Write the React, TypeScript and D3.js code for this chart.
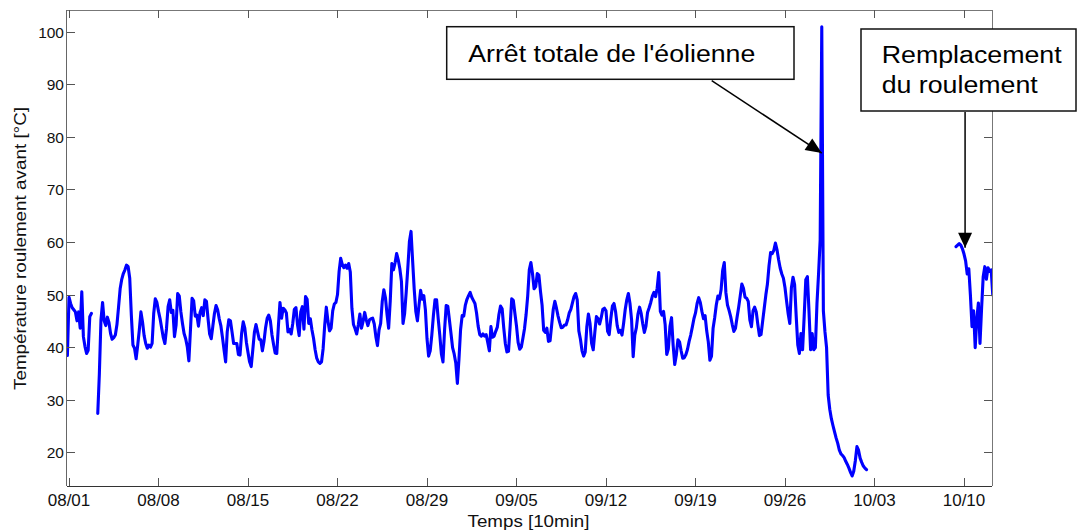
import * as d3 from 'd3';

// 3-hourly samples of the front bearing temperature (°C)
const STEP_MS = 3 * 3600 * 1000;

const julStart = Date.UTC(2011, 6, 31, 21);
const julTemps = [38.5];

const augStart = Date.UTC(2011, 7, 1, 0);
const augTemps = [
  49.6, 48.4, 47.6, 47.2, 46.8, 45.1, 46.8, 43.7,
  50.6, 42.1, 40.2, 38.9, 39.5, 45.9, 46.5, NaN,
  NaN, NaN, 27.5, 35.1, 45.3, 48.6, 45.1, 44.2,
  45.8, 44.8, 42.7, 41.6, 41.9, 42.4, 44.4, 47.7,
  51.2, 53.0, 54.1, 54.8, 55.7, 55.4, 53.2, 46.2,
  40.5, 39.9, 37.9, 40.5, 43.4, 46.8, 44.9, 42.3,
  40.8, 39.9, 40.5, 40.1, 40.8, 46.5, 49.3, 48.6,
  46.9, 45.5, 43.7, 41.9, 40.8, 43.6, 47.8, 49.1,
  46.7, 47.1, 42.1, 44.3, 50.3, 49.8, 46.8, 44.6,
  42.7, 41.7, 40.2, 37.5, 43.4, 49.4, 48.9, 46.0,
  46.2, 44.1, 46.7, 47.6, 46.1, 49.1, 48.8, 45.5,
  42.6, 41.7, 44.1, 46.5, 48.0, 47.2, 45.5, 44.2,
  42.0, 39.6, 37.3, 43.0, 45.3, 45.1, 43.0, 40.8,
  40.8, 40.8, 38.7, 38.6, 42.7, 44.9, 43.7, 41.0,
  39.1, 37.3, 36.4, 39.6, 42.9, 44.4, 43.0, 41.6,
  41.5, 39.4, 41.2, 43.8, 45.6, 46.2, 45.1, 42.4,
  40.6, 39.0, 38.9, 44.0, 48.6, 45.6, 47.5, 47.2,
  46.6, 43.0, 43.5, 42.6, 44.6, 47.3, 47.6, 44.3,
  42.3, 46.8, 47.8, 43.5, 49.7, 49.2, 44.6, 45.5,
  43.4, 41.8, 39.6, 38.0, 37.3, 37.0, 37.3, 39.8,
  44.3, 47.7, 45.1, 43.2, 43.7, 47.0, 48.3, 48.6,
  50.1, 54.5, 57.0, 55.8, 55.2, 55.7, 55.1, 56.0,
  54.4, 47.5, 44.4, 43.6, 42.6, 44.3, 46.4, 43.7,
  45.0, 46.7, 45.3, 44.2, 45.3, 45.5, 45.6, 44.5,
  42.1, 40.4, 43.4, 44.6, 48.8, 51.0, 49.5, 46.3,
  43.7, 48.9, 56.0, 54.8, 56.1, 57.9, 56.7, 55.0,
  52.6, 44.6, 46.5, 50.6, 55.2, 60.2, 62.1, 56.5,
  51.1, 46.9, 45.1, 48.1, 50.9, 49.2, 49.9, 47.2,
  41.7, 38.4, 39.4, 42.4, 46.1, 49.1, 49.1, 45.5,
  42.4, 38.8, 37.3, 43.4, 48.0, 47.9, 45.3, 42.7,
  40.0, 38.8, 37.1, 33.2, 37.8, 43.4, 46.1, 46.0,
];

const sepStart = Date.UTC(2011, 8, 1, 0);
const sepTemps = [
  48.1, 49.2, 49.9, 50.5, 49.6, 49.0, 48.4, 46.6,
  44.1, 42.5, 42.2, 42.6, 42.2, 42.5, 41.0, 39.4,
  44.0, 42.0, 42.2, 43.1, 43.9, 46.3, 47.9, 47.4,
  43.8, 40.8, 39.2, 39.3, 44.0, 49.3, 49.0, 46.5,
  44.1, 41.0, 39.7, 40.1, 41.8, 43.6, 46.3, 49.8,
  54.8, 56.2, 54.1, 51.2, 51.6, 54.1, 53.8, 50.7,
  48.1, 43.3, 42.9, 43.7, 41.2, 41.3, 44.3, 47.3,
  48.8, 47.5, 46.0, 44.8, 43.8, 43.9, 44.3, 44.3,
  45.3, 46.6, 47.3, 48.5, 49.7, 50.3, 49.1, 43.2,
  41.6, 39.4, 38.4, 39.2, 44.0, 46.4, 44.6, 40.8,
  39.6, 42.9, 45.9, 45.5, 44.5, 45.7, 47.3, 47.5,
  47.0, 43.1, 42.5, 45.5, 47.9, 48.4, 46.8, 44.2,
  42.9, 43.3, 42.4, 44.6, 47.2, 49.1, 50.3, 48.4,
  45.3, 38.3, 42.4, 43.8, 46.4, 47.7, 46.5, 44.5,
  42.9, 44.1, 46.7, 47.6, 48.6, 49.8, 50.5, 49.7,
  51.3, 54.3, 46.9, 46.2, 46.9, 44.4, 38.7, 39.8,
  44.0, 45.7, 40.5, 36.8, 38.6, 41.5, 41.1, 39.4,
  38.0, 38.1, 38.7, 39.7, 41.2, 42.4, 43.9, 45.5,
  46.6, 48.4, 49.5, 48.6, 46.9, 45.5, 46.1, 43.2,
  41.1, 37.6, 38.4, 43.7, 45.7, 48.1, 49.8, 49.3,
  51.0, 54.7, 56.2, 50.5, 48.1, 47.1, 45.9, 44.4,
  43.1, 43.7, 45.8, 47.7, 49.9, 52.1, 51.3, 49.6,
  49.4, 48.8, 45.3, 44.0, 47.0, 47.7, 46.8, 44.4,
  42.3, 42.5, 45.0, 47.5, 50.0, 52.1, 55.6, 58.1,
  57.9, 58.5, 59.9, 58.6, 56.7, 55.1, 54.0, 53.2,
  51.4, 48.8, 46.4, 44.6, 51.4, 53.4, 52.0, 46.0,
  40.5, 38.9, 42.7, 39.6, 46.0, 52.9, 53.5, 47.0,
  39.6, 42.7, 39.6, 40.0, 48.4, 54.1, 60.5, 101.0,
  47.0, 43.0, 40.0, 31.0, 28.3, 26.5, 25.2, 24.0,
  22.8, 21.8, 20.5, 19.8, 19.5, 19.1, 18.4, 17.8,
];

const octStart = Date.UTC(2011, 9, 1, 0);
const octTemps = [
  17.1, 16.3, 15.6, 16.5, 18.5, 21.2, 20.5, 19.0,
  18.2, 17.5, 17.1, 16.8,
];

// after the bearing was replaced
const restartStart = Date.UTC(2011, 9, 9, 9);
const restartTemps = [
  59.2, 59.5, 59.8, 59.5, 58.8,
  57.8, 56.5, 54.0, 55.0, 50.0, 44.0, 47.0, 40.0,
  45.5, 48.5, 40.8, 47.5, 53.5, 55.4, 53.0, 55.2,
  54.5, 54.8, 50.0,
];

const xTickLabels = ['08/01', '08/08', '08/15', '08/22', '08/29', '09/05', '09/12', '09/19', '09/26', '10/03', '10/10'];
const yTicks = [20, 30, 40, 50, 60, 70, 80, 90, 100];

const stopTime = Date.UTC(2011, 8, 28, 21);
const stopTemp = 77;
const swapTime = Date.UTC(2011, 9, 10, 2);
const swapTemp = 59;

type Pt = { t: Date; v: number };

const toPoints = (start: number, vals: number[]): Pt[] =>
  vals.map((v, i) => ({ t: new Date(start + i * STEP_MS), v }));

const FONT = '"Liberation Sans", Arial, Helvetica, sans-serif';

function arrowHead(x0: number, y0: number, x1: number, y1: number, len = 16, half = 7) {
  const dx = x1 - x0;
  const dy = y1 - y0;
  const L = Math.hypot(dx, dy);
  const ux = dx / L;
  const uy = dy / L;
  const bx = x1 - ux * len;
  const by = y1 - uy * len;
  return `${x1},${y1} ${bx - uy * half},${by + ux * half} ${bx + uy * half},${by - ux * half}`;
}

export default function App() {
  const width = 1079;
  const height = 531;
  const left = 66.5;
  const right = 992;
  const top = 10;
  const bottom = 486;

  const x = d3
    .scaleUtc()
    .domain([new Date(Date.UTC(2011, 6, 31, 19, 18)), new Date(Date.UTC(2011, 9, 12, 4, 32))])
    .range([left, right]);
  const y = d3.scaleLinear().domain([13.7, 104.2]).range([bottom, top]);

  const parse = d3.utcParse('%Y/%m/%d');
  const xTicks = xTickLabels.map((l) => ({ label: l, t: parse(`2011/${l}`) as Date }));

  const mainSeries = [
    ...toPoints(julStart, julTemps),
    ...toPoints(augStart, augTemps),
    ...toPoints(sepStart, sepTemps),
    ...toPoints(octStart, octTemps),
  ];
  const restartSeries = toPoints(restartStart, restartTemps);

  const line = d3
    .line<Pt>()
    .defined((d) => !Number.isNaN(d.v))
    .x((d) => x(d.t))
    .y((d) => y(d.v));

  const tick = 8;
  const axisColor = '#555';

  // annotation arrows
  const a1Tail = { x: 711.7, y: 80.7 };
  const a1Tip = { x: x(new Date(stopTime)), y: y(stopTemp) };
  const a2Tip = { x: x(new Date(swapTime)), y: y(swapTemp) };
  const a2Tail = { x: a2Tip.x, y: 112 };

  return (
    <div style={{ position: 'absolute', left: 0, top: 0 }}>
      <svg width={width} height={height} style={{ display: 'block', fontFamily: FONT }}>
        <rect width={width} height={height} fill="#fff" />
        <defs>
          <clipPath id="plot">
            <rect x={left} y={top} width={right - left} height={bottom - top} />
          </clipPath>
        </defs>

        {/* data */}
        <g clipPath="url(#plot)" fill="none" stroke="#0000ff" strokeWidth={3.1} strokeLinejoin="round" strokeLinecap="round">
          <path d={line(mainSeries) || ''} />
          <path d={line(restartSeries) || ''} />
        </g>

        {/* axes box */}
        <g stroke={axisColor} strokeWidth={1} fill="none" shapeRendering="crispEdges">
          <line x1={left} x2={right} y1={top} y2={top} stroke="#777" />
          <line x1={left} x2={right} y1={bottom} y2={bottom} stroke="#333" />
          <line x1={left} x2={left} y1={top} y2={bottom} stroke="#666" />
          <line x1={right} x2={right} y1={top} y2={bottom} stroke="#777" />
          {xTicks.map((d) => (
            <g key={d.label}>
              <line x1={x(d.t)} x2={x(d.t)} y1={bottom} y2={bottom - tick} />
              <line x1={x(d.t)} x2={x(d.t)} y1={top} y2={top + tick} />
            </g>
          ))}
          {yTicks.map((v) => (
            <g key={v}>
              <line x1={left} x2={left + tick} y1={y(v)} y2={y(v)} />
              <line x1={right} x2={right - tick} y1={y(v)} y2={y(v)} />
            </g>
          ))}
        </g>

        {/* tick labels */}
        <g fill="#111" fontSize={17} textAnchor="middle">
          {xTicks.map((d) => (
            <text key={d.label} x={x(d.t)} y={505.5}>
              {d.label}
            </text>
          ))}
        </g>
        <g fill="#111" fontSize={15.5} textAnchor="end">
          {yTicks.map((v) => (
            <text key={v} x={64} y={y(v) + 5.5}>
              {v}
            </text>
          ))}
        </g>

        {/* axis titles */}
        <text x={528.5} y={527} fontSize={17} textAnchor="middle" fill="#111" textLength={122} lengthAdjust="spacingAndGlyphs">
          Temps [10min]
        </text>
        <text
          transform="translate(25.5,248.5) rotate(-90)"
          fontSize={17}
          textAnchor="middle"
          fill="#111"
          textLength={283}
          lengthAdjust="spacingAndGlyphs"
        >
          Température roulement avant [°C]
        </text>

        {/* annotation: total stop */}
        <rect x={446.7} y={26.7} width={347.3} height={52.6} fill="#fff" stroke="#111" strokeWidth={1.5} />
        <text x={468.3} y={61.7} fontSize={23} fill="#000" textLength={287} lengthAdjust="spacingAndGlyphs">
          Arrêt totale de l'éolienne
        </text>
        <line x1={a1Tail.x} y1={a1Tail.y} x2={a1Tip.x} y2={a1Tip.y} stroke="#000" strokeWidth={1.5} />
        <polygon points={arrowHead(a1Tail.x, a1Tail.y, a1Tip.x, a1Tip.y)} fill="#000" />

        {/* annotation: bearing replacement */}
        <rect x={861} y={29} width={215} height={82} fill="#fff" stroke="#111" strokeWidth={1.5} />
        <text x={881.7} y={63.3} fontSize={23} fill="#000" textLength={180} lengthAdjust="spacingAndGlyphs">
          Remplacement
        </text>
        <text x={881.7} y={93.3} fontSize={23} fill="#000" textLength={156} lengthAdjust="spacingAndGlyphs">
          du roulement
        </text>
        <line x1={a2Tail.x} y1={a2Tail.y} x2={a2Tip.x} y2={a2Tip.y} stroke="#000" strokeWidth={1.5} />
        <polygon points={arrowHead(a2Tail.x, a2Tail.y, a2Tip.x, a2Tip.y, 15, 7)} fill="#000" />
      </svg>
    </div>
  );
}
